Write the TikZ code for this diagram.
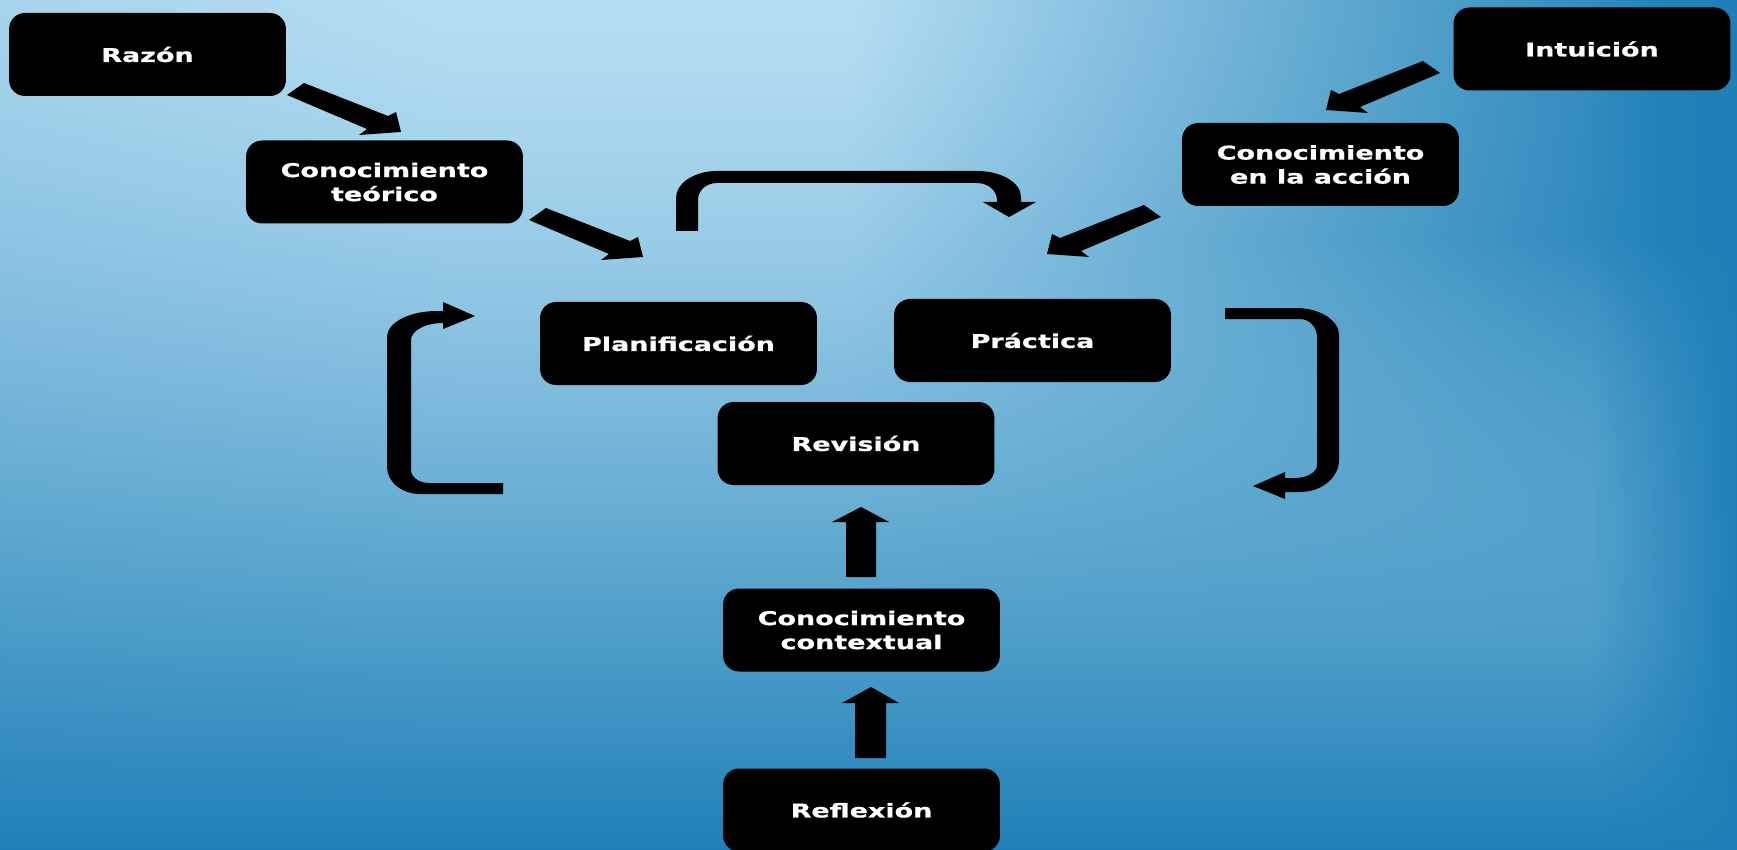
\documentclass[tikz,border=0pt]{standalone}
\usepackage{fontspec}
\newfontfamily\boxfont{DejaVu Sans}[BoldFeatures={FakeBold=0.6}]
\pgfdeclarefunctionalshading{bgfield}{\pgfpointorigin}{\pgfpoint{100bp}{100bp}}{}{
  75 exch sub 17 mul
  exch 25 sub 34.74 mul exch
  dup 640 exch sub 400 div dup 0 lt {pop 0} if dup 1 gt {pop 1} if
  2 index 850 sub 860 div dup 0 lt {pop 0} if dup 1 gt {pop 1} if
  mul 1 exch sub
  exch 850 div dup 0 lt {pop 0} if dup 1 gt {pop 1} if 1.3 exp 1 exch sub
  mul
  1 index 1590 sub 147 div dup 0 lt {pop 0} if dup 1 gt {pop 1} if 1 exch sub
  mul
  exch 450 exch sub 450 div dup 0 lt {pop 0} if dup 1 gt {pop 1} if 0.1 mul 1 exch sub
  mul
  dup 151 mul 30 add 255 div exch dup 93 mul 128 add 255 div exch 60 mul 182 add 255 div
}
\tikzset{
  box/.style={fill=black, rounded corners=16pt, minimum width=195pt, minimum height=83pt,
    inner sep=0pt, text=white, align=center,
    font=\boxfont\bfseries\fontsize{19}{24}\selectfont},
  blk/.style={fill=black}
}
\newcommand\bx[3]{\begin{scope}[shift={(#2)}, xscale=1.42]
  \node[box, transform shape] (#1) at (0,0) {#3};\end{scope}}
\newcommand\diagArrow[2]{% tip, xscale (1 = pointing down-right, -1 = down-left)
  \fill[blk, shift={(#1)}, xscale=#2] (-97,-49) -- (-13,-16) -- (-5,-20) -- (0,0)
    -- (-42,3) -- (-34,-3) -- (-114,-37) -- cycle;}
\begin{document}
\begin{tikzpicture}[x=1pt,y=-1pt]
\useasboundingbox (0,0) rectangle (1737,850);
% background
\shade[shading=bgfield] (0,0) rectangle (1737,850);

% boxes
\bx{raz}{147.5,54.5}{Razón}
\bx{ct}{384.5,182}{Conocimiento\\teórico}
\bx{int}{1592,49}{Intuición}
\bx{ca}{1320.5,164.5}{Conocimiento\\en la acción}
\bx{pla}{678.5,343.5}{Planificación}
\bx{pra}{1032.5,340.5}{Práctica}
\bx{rev}{856,443.5}{Revisión}
\bx{cc}{861.5,630}{Conocimiento\\contextual}
\bx{ref}{861.5,810}{Reflexión}

% arrow tips
\coordinate (t1) at (401,132);
\coordinate (t2) at (643,257);
\coordinate (t3) at (1326,110);
\coordinate (t4) at (1047,254);

% diagonal block arrows
\diagArrow{t1}{1}
\diagArrow{t2}{1}
\diagArrow{t3}{-1}
\diagArrow{t4}{-1}

% top U arrow (Planificacion -> Practica)
\fill[blk] (676,231) -- (676,198) .. controls (676,183.1) and (694.4,171) .. (717,171)
  -- (977,171) .. controls (1001.3,171) and (1021,182.6) .. (1021,197)
  -- (1021,202) -- (1036,202) -- (1009,217) -- (983,202) -- (997,202) -- (997,200)
  .. controls (997,190.6) and (988,183) .. (977,183)
  -- (717,183) .. controls (706,183) and (698,190.6) .. (698,200)
  -- (698,231) -- cycle;

% left loop arrow
\fill[blk] (503,494) -- (420,494) .. controls (401.8,494) and (387,481.9) .. (387,467)
  -- (387,337) .. controls (387,322.6) and (409.4,311) .. (437,311)
  -- (443,311) -- (443,302) -- (475,316) -- (443,329) -- (443,323)
  .. controls (425.3,323) and (411,330.6) .. (411,340)
  -- (411,470) .. controls (411,477.2) and (419.1,483) .. (429,483)
  -- (503,483) -- cycle;

% right loop arrow
\fill[blk] (1225,308) -- (1296,308) .. controls (1319.7,308) and (1339,320.1) .. (1339,335)
  -- (1339,460) .. controls (1339,477.7) and (1321.5,492) .. (1300,492)
  -- (1285,492) -- (1285,499) -- (1253,486) -- (1285,472) -- (1285,478) -- (1295,478)
  .. controls (1307.2,478) and (1317,472.2) .. (1317,465)
  -- (1317,337) .. controls (1317,327.1) and (1309.4,319) .. (1300,319)
  -- (1225,319) -- cycle;

% up arrows
\fill[blk] (846,577) -- (846,522) -- (832,522) -- (861,507) -- (889,522) -- (876,522) -- (876,577) -- cycle;
\fill[blk] (855,758) -- (855,703) -- (842,703) -- (871,687) -- (899,703) -- (886,703) -- (886,758) -- cycle;
\end{tikzpicture}
\end{document}
